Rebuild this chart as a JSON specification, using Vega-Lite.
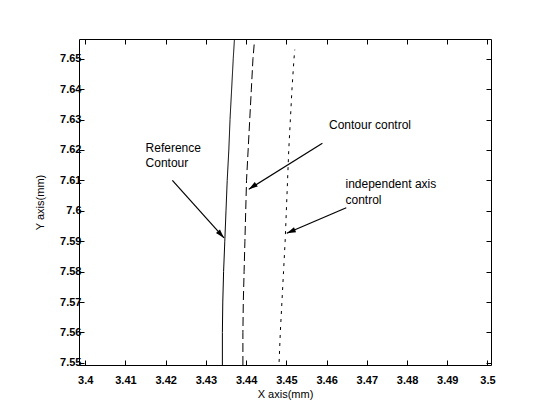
{
  "$schema": "https://vega.github.io/schema/vega-lite/v6.json",
  "width": 412,
  "height": 326,
  "autosize": {"type": "none"},
  "padding": {"left": 79, "top": 39, "right": 50, "bottom": 46},
  "background": "white",
  "config": {
    "view": {"stroke": "black", "strokeWidth": 1},
    "font": "Liberation Sans",
    "axis": {
      "domain": false,
      "grid": false,
      "tickSize": -5,
      "tickColor": "black",
      "labelColor": "black",
      "titleColor": "black",
      "labelFont": "Liberation Sans",
      "titleFont": "Liberation Sans",
      "labelFontSize": 11,
      "labelFontWeight": "bold",
      "titleFontSize": 11,
      "titleFontWeight": "normal"
    }
  },
  "datasets": {
    "curves": [
      {"series": "Reference Contour", "x": 3.4341, "y": 7.5493},
      {"series": "Reference Contour", "x": 3.4341, "y": 7.56},
      {"series": "Reference Contour", "x": 3.4342, "y": 7.57},
      {"series": "Reference Contour", "x": 3.4344, "y": 7.58},
      {"series": "Reference Contour", "x": 3.4347, "y": 7.59},
      {"series": "Reference Contour", "x": 3.435, "y": 7.6},
      {"series": "Reference Contour", "x": 3.4353, "y": 7.61},
      {"series": "Reference Contour", "x": 3.4357, "y": 7.62},
      {"series": "Reference Contour", "x": 3.436, "y": 7.63},
      {"series": "Reference Contour", "x": 3.4364, "y": 7.64},
      {"series": "Reference Contour", "x": 3.4368, "y": 7.65},
      {"series": "Reference Contour", "x": 3.4371, "y": 7.6565},
      {"series": "Contour control", "x": 3.4392, "y": 7.5493},
      {"series": "Contour control", "x": 3.4392, "y": 7.56},
      {"series": "Contour control", "x": 3.4393, "y": 7.57},
      {"series": "Contour control", "x": 3.4395, "y": 7.58},
      {"series": "Contour control", "x": 3.4397, "y": 7.59},
      {"series": "Contour control", "x": 3.4399, "y": 7.6},
      {"series": "Contour control", "x": 3.4401, "y": 7.61},
      {"series": "Contour control", "x": 3.4405, "y": 7.62},
      {"series": "Contour control", "x": 3.4409, "y": 7.63},
      {"series": "Contour control", "x": 3.4413, "y": 7.64},
      {"series": "Contour control", "x": 3.4417, "y": 7.65},
      {"series": "Contour control", "x": 3.442, "y": 7.6547},
      {"series": "independent axis control", "x": 3.4482, "y": 7.5503},
      {"series": "independent axis control", "x": 3.4485, "y": 7.56},
      {"series": "independent axis control", "x": 3.4489, "y": 7.57},
      {"series": "independent axis control", "x": 3.4493, "y": 7.58},
      {"series": "independent axis control", "x": 3.4497, "y": 7.59},
      {"series": "independent axis control", "x": 3.45, "y": 7.6},
      {"series": "independent axis control", "x": 3.4503, "y": 7.61},
      {"series": "independent axis control", "x": 3.4506, "y": 7.62},
      {"series": "independent axis control", "x": 3.451, "y": 7.63},
      {"series": "independent axis control", "x": 3.4514, "y": 7.64},
      {"series": "independent axis control", "x": 3.4519, "y": 7.65},
      {"series": "independent axis control", "x": 3.4521, "y": 7.653}
    ],
    "arrows": [
      {"arrow": "ref", "part": "start", "x": 3.42167, "y": 7.61},
      {"arrow": "ref", "part": "end", "x": 3.4345, "y": 7.5911},
      {"arrow": "cc", "part": "start", "x": 3.45896, "y": 7.6222},
      {"arrow": "cc", "part": "end", "x": 3.44067, "y": 7.6071},
      {"arrow": "iac", "part": "start", "x": 3.4649, "y": 7.601},
      {"arrow": "iac", "part": "end", "x": 3.4501, "y": 7.5926}
    ],
    "notes": [
      {"text": "Reference", "x": 3.415, "y": 7.6207},
      {"text": "Contour", "x": 3.415, "y": 7.6157},
      {"text": "Contour control", "x": 3.4606, "y": 7.6281},
      {"text": "independent axis", "x": 3.4647, "y": 7.6087},
      {"text": "control", "x": 3.4647, "y": 7.6036}
    ]
  },
  "layer": [
    {
      "data": {"name": "curves"},
      "mark": {"type": "line", "color": "black", "strokeWidth": 1},
      "encoding": {
        "x": {
          "field": "x", "type": "quantitative",
          "scale": {"domain": [3.39846, 3.50087], "nice": false, "zero": false},
          "axis": {
            "orient": "bottom", "title": "X axis(mm)",
            "values": [3.4, 3.41, 3.42, 3.43, 3.44, 3.45, 3.46, 3.47, 3.48, 3.49, 3.5],
            "format": ".2~f", "labelPadding": 14, "titlePadding": 3
          }
        },
        "y": {
          "field": "y", "type": "quantitative",
          "scale": {"domain": [7.5493, 7.6565], "nice": false, "zero": false},
          "axis": {
            "orient": "left", "title": "Y axis(mm)",
            "values": [7.55, 7.56, 7.57, 7.58, 7.59, 7.6, 7.61, 7.62, 7.63, 7.64, 7.65],
            "format": ".2~f", "labelPadding": 3, "titlePadding": 14
          }
        },
        "strokeDash": {
          "field": "series", "type": "nominal",
          "scale": {
            "domain": ["Reference Contour", "Contour control", "independent axis control"],
            "range": [[1, 0], [9, 4], [3, 5]]
          },
          "legend": null
        },
        "order": {"field": "y", "type": "quantitative"}
      }
    },
    {
      "data": {"name": "curves"},
      "mark": {"type": "point", "opacity": 0},
      "encoding": {
        "x": {
          "field": "x", "type": "quantitative",
          "axis": {
            "orient": "top", "title": null, "labels": false,
            "values": [3.4, 3.41, 3.42, 3.43, 3.44, 3.45, 3.46, 3.47, 3.48, 3.49, 3.5]
          }
        },
        "y": {
          "field": "y", "type": "quantitative",
          "axis": {
            "orient": "right", "title": null, "labels": false,
            "values": [7.55, 7.56, 7.57, 7.58, 7.59, 7.6, 7.61, 7.62, 7.63, 7.64, 7.65]
          }
        }
      }
    },
    {
      "data": {"name": "arrows"},
      "mark": {"type": "line", "color": "black", "strokeWidth": 1.2},
      "encoding": {
        "x": {"field": "x", "type": "quantitative", "axis": null},
        "y": {"field": "y", "type": "quantitative", "axis": null},
        "detail": {"field": "arrow"}
      }
    },
    {
      "data": {"name": "arrows"},
      "transform": [{"filter": "datum.arrow == 'ref' && datum.part == 'end'"}],
      "mark": {"type": "point", "shape": "M0,0L-0.3,1L0.3,1Z", "filled": true, "color": "black", "opacity": 1, "size": 324, "angle": 138},
      "encoding": {
        "x": {"field": "x", "type": "quantitative", "axis": null},
        "y": {"field": "y", "type": "quantitative", "axis": null}
      }
    },
    {
      "data": {"name": "arrows"},
      "transform": [{"filter": "datum.arrow == 'cc' && datum.part == 'end'"}],
      "mark": {"type": "point", "shape": "M0,0L-0.3,1L0.3,1Z", "filled": true, "color": "black", "opacity": 1, "size": 324, "angle": 236},
      "encoding": {
        "x": {"field": "x", "type": "quantitative", "axis": null},
        "y": {"field": "y", "type": "quantitative", "axis": null}
      }
    },
    {
      "data": {"name": "arrows"},
      "transform": [{"filter": "datum.arrow == 'iac' && datum.part == 'end'"}],
      "mark": {"type": "point", "shape": "M0,0L-0.3,1L0.3,1Z", "filled": true, "color": "black", "opacity": 1, "size": 324, "angle": 247},
      "encoding": {
        "x": {"field": "x", "type": "quantitative", "axis": null},
        "y": {"field": "y", "type": "quantitative", "axis": null}
      }
    },
    {
      "data": {"name": "notes"},
      "mark": {"type": "text", "align": "left", "baseline": "middle", "font": "Liberation Sans", "fontSize": 12, "color": "black"},
      "encoding": {
        "x": {"field": "x", "type": "quantitative", "axis": null},
        "y": {"field": "y", "type": "quantitative", "axis": null},
        "text": {"field": "text"}
      }
    }
  ],
  "resolve": {"axis": {"x": "independent", "y": "independent"}}
}
